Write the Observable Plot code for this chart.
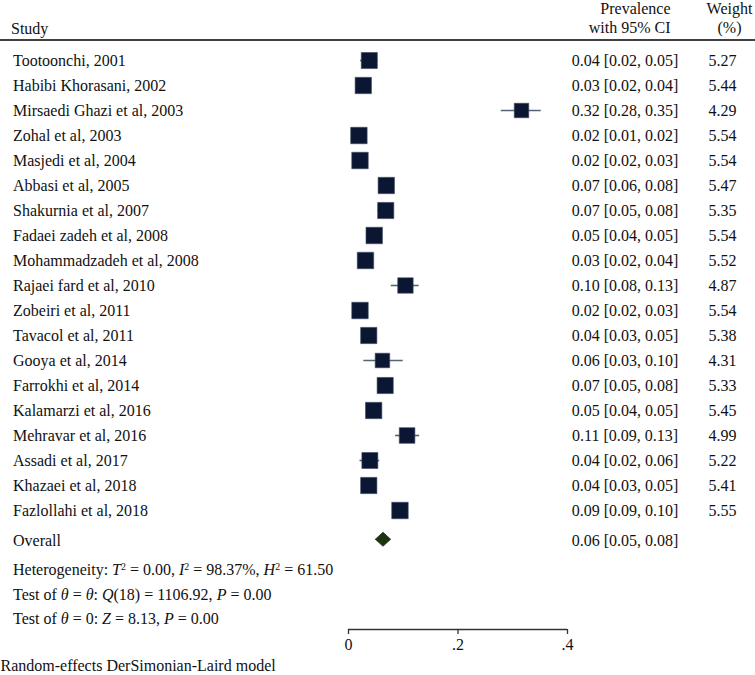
<!DOCTYPE html>
<html><head><meta charset="utf-8">
<script src="https://cdn.jsdelivr.net/npm/d3@7"></script>
<script src="https://cdn.jsdelivr.net/npm/@observablehq/plot@0.6"></script>
<style>
html,body{margin:0;padding:0;background:#fff;}
#chart{width:755px;height:675px;overflow:hidden;}
</style></head><body><div id="chart"></div>
<script>
const studies = ["Tootoonchi, 2001","Habibi Khorasani, 2002","Mirsaedi Ghazi et al, 2003","Zohal et al, 2003","Masjedi et al, 2004","Abbasi et al, 2005","Shakurnia et al, 2007","Fadaei zadeh et al, 2008","Mohammadzadeh et al, 2008","Rajaei fard et al, 2010","Zobeiri et al, 2011","Tavacol et al, 2011","Gooya et al, 2014","Farrokhi et al, 2014","Kalamarzi et al, 2016","Mehravar et al, 2016","Assadi et al, 2017","Khazaei et al, 2018","Fazlollahi et al, 2018"];
const estimates = [0.038,0.027,0.316,0.019,0.021,0.069,0.068,0.047,0.031,0.104,0.021,0.037,0.062,0.067,0.046,0.107,0.039,0.037,0.094];
const lower = [0.022,0.020,0.279,0.014,0.018,0.060,0.054,0.041,0.024,0.078,0.017,0.029,0.028,0.054,0.040,0.086,0.021,0.029,0.088];
const upper = [0.054,0.040,0.352,0.024,0.026,0.078,0.081,0.053,0.038,0.129,0.026,0.046,0.100,0.082,0.053,0.130,0.057,0.046,0.101];
const weights = [5.27,5.44,4.29,5.54,5.54,5.47,5.35,5.54,5.52,4.87,5.54,5.38,4.31,5.33,5.45,4.99,5.22,5.41,5.55];
const overallEst = 0.063, overallLo = 0.049, overallHi = 0.077;
const overallLabel = "Overall";
const headerStudy = "Study";
const headerCI = ["Prevalence", "with 95% CI"];
const headerWeight = ["Weight", "(%)"];
const xTicks = [0, 0.2, 0.4];
const xTickLabels = ["0", ".2", ".4"];
const statsLines = [
  [["Heterogeneity: ",""],["T","i"],["2","s"],[" = 0.00, ",""],["I","i"],["2","s"],[" = 98.37%, ",""],["H","i"],["2","s"],[" = 61.50",""]],
  [["Test of ",""],["θ","i"],[" = ",""],["θ","i"],[": ",""],["Q","i"],["(18) = 1106.92, ",""],["P","i"],[" = 0.00",""]],
  [["Test of ",""],["θ","i"],[" = 0: ",""],["Z","i"],[" = 8.13, ",""],["P","i"],[" = 0.00",""]]
];
const footerText = "Random-effects DerSimonian-Laird model";

// layout (rows in y units)
const overallRow = 19.15;
const statsRows = [20.38, 21.38, 22.34];
const axisRow = 22.76;

const rows = studies.map((s, i) => ({
  study: s, row: i, est: estimates[i], lo: lower[i], hi: upper[i], w: weights[i],
  ci: `${estimates[i].toFixed(2)} [${lower[i].toFixed(2)}, ${upper[i].toFixed(2)}]`,
  wt: weights[i].toFixed(2)
}));
const overallData = [{row: overallRow, label: overallLabel, ci: `${overallEst.toFixed(2)} [${overallLo.toFixed(2)}, ${overallHi.toFixed(2)}]`}];
const dh = 0.28;
const diamond = [
  {x: overallLo, y: overallRow},
  {x: overallEst, y: overallRow - dh},
  {x: overallHi, y: overallRow},
  {x: overallEst, y: overallRow + dh},
  {x: overallLo, y: overallRow}
];
const plainStats = statsLines.map(l => l.map(s => s[0]).join(""));
const statsData = plainStats.map((t, i) => ({t, row: statsRows[i]}));

const fs = 16;
const plot = Plot.plot({
  width: 755, height: 675,
  marginLeft: 0, marginRight: 0, marginTop: 39.5, marginBottom: 46,
  style: {fontFamily: "'Liberation Serif', 'DejaVu Serif', serif", fontSize: "16px", background: "#fff", color: "#000"},
  x: {domain: [0, 0.4], range: [348, 567]},
  y: {domain: [0, 18], range: [60, 510], axis: null},
  r: {type: "sqrt", domain: [0, 5.55], range: [0, 9.3]},
  marks: [
    Plot.frame({anchor: "top", stroke: "#000", strokeWidth: 1.6}),
    Plot.text([headerStudy], {frameAnchor: "top-left", lineAnchor: "middle", dx: 10.5, dy: -11, textAnchor: "start", fontSize: fs, fill: "#111"}),
    Plot.text([headerCI.join("\n")], {frameAnchor: "top-left", lineAnchor: "middle", dx: 670, dy: -22.4, textAnchor: "end", lineHeight: 1.175, fontSize: fs, fill: "#111"}),
    Plot.text([headerWeight.join("\n")], {frameAnchor: "top-left", lineAnchor: "middle", dx: 729, dy: -22.4, textAnchor: "middle", lineHeight: 1.175, fontSize: fs, fill: "#111"}),
    Plot.ruleY(rows, {y: "row", x1: "lo", x2: "hi", stroke: "#56647a", strokeWidth: 1.6}),
    Plot.dot(rows, {x: "est", y: "row", r: "w", symbol: "square", fill: "#0b1633", stroke: "#3c4a62", strokeWidth: 0.6}),
    Plot.line(diamond, {x: "x", y: "y", fill: "#1d3413", stroke: "#1d3413", strokeWidth: 0.8}),
    Plot.text(rows, {y: "row", text: "study", frameAnchor: "left", dx: 12.5, textAnchor: "start", fontSize: fs, fill: "#111"}),
    Plot.text(rows, {y: "row", text: "ci", frameAnchor: "left", dx: 624.5, textAnchor: "middle", fontSize: fs, fill: "#111"}),
    Plot.text(rows, {y: "row", text: "wt", frameAnchor: "left", dx: 722, textAnchor: "middle", fontSize: fs, fill: "#111"}),
    Plot.text(overallData, {y: "row", text: "label", frameAnchor: "left", dx: 12.5, dy: 2, textAnchor: "start", fontSize: fs, fill: "#111"}),
    Plot.text(overallData, {y: "row", text: "ci", frameAnchor: "left", dx: 624.5, dy: 2, textAnchor: "middle", fontSize: fs, fill: "#111"}),
    Plot.text(statsData, {y: "row", text: "t", frameAnchor: "left", dx: 12.5, textAnchor: "start", fontSize: fs, fill: "#111"}),
    Plot.ruleY([{y: axisRow, x1: xTicks[0], x2: xTicks[xTicks.length - 1]}], {y: "y", x1: "x1", x2: "x2", stroke: "#333", strokeWidth: 1.5}),
    Plot.axisX(xTicks, {anchor: "bottom", tickSize: 5, tickPadding: 4, stroke: "#333", strokeWidth: 1.3, fontSize: fs, fill: "#111",
      tickFormat: d => xTickLabels[xTicks.indexOf(d)], label: null}),
    Plot.text([footerText], {frameAnchor: "bottom-left", lineAnchor: "middle", dx: 0, dy: 36, textAnchor: "start", fontSize: fs, fill: "#111"})
  ]
});
document.getElementById("chart").appendChild(plot);

d3.select(plot).selectAll("text").each(function () {
  const idx = plainStats.indexOf(this.textContent);
  if (idx < 0) return;
  const sel = d3.select(this);
  sel.selectAll("*").remove();
  sel.text(null);
  for (const [s, st] of statsLines[idx]) {
    const ts = sel.append("tspan").text(s);
    if (st === "i") ts.attr("font-style", "italic");
    if (st === "s") ts.attr("baseline-shift", "super").attr("font-size", "0.62em");
  }
});
</script></body></html>
